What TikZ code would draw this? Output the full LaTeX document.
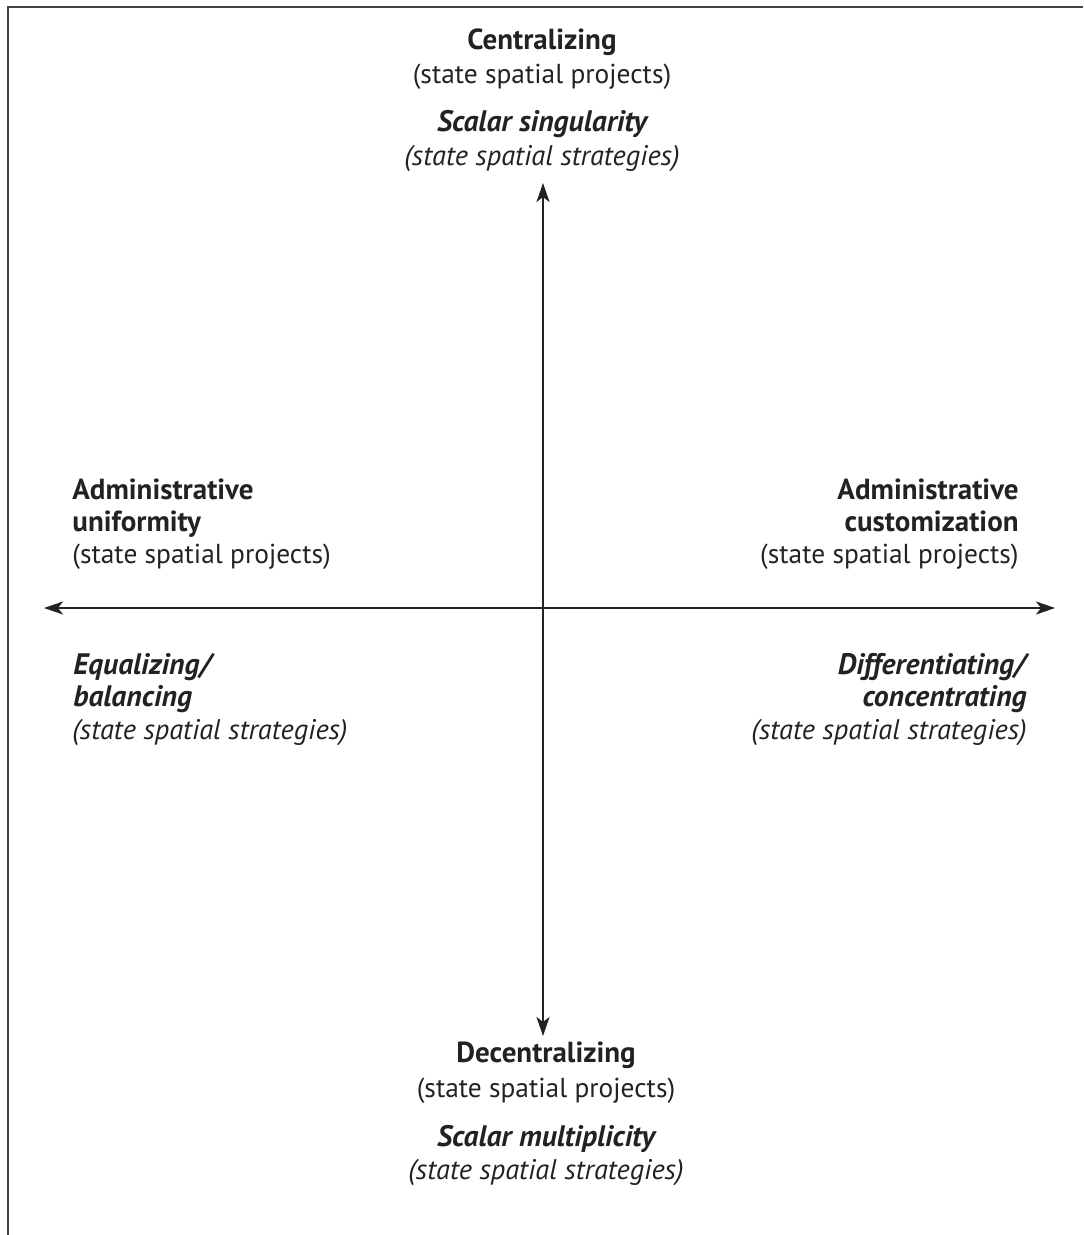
\documentclass[tikz,border=0pt]{standalone}
\usepackage{fontspec}
\setmainfont{PT Sans}
\usetikzlibrary{arrows.meta}
\definecolor{ink}{HTML}{222222}
\definecolor{framec}{HTML}{444444}
\tikzset{
  lbl/.style={inner sep=0pt, text=ink, font=\fontsize{13.7}{16}\selectfont},
  head/.style={lbl, font=\fontsize{14.5}{16}\selectfont\bfseries},
  strat/.style={lbl, font=\fontsize{14.8}{16}\selectfont\bfseries\itshape},
  sub/.style={lbl, font=\fontsize{14.2}{16}\selectfont\itshape},
  axis/.style={draw=ink, line width=1pt,
    {Stealth[length=9.5pt,width=6.5pt,inset=2.5pt]}-{Stealth[length=9.5pt,width=6.5pt,inset=2.5pt]}}
}
\begin{document}
\begin{tikzpicture}[x=0.5pt,y=-0.5pt]
\useasboundingbox (0,0) rectangle (1083,1235);
% open frame: left and top edges only
\draw[framec, line width=1pt] (7.5,1235) -- (7.5,7) -- (1083,7);

% axis end points
\coordinate (N) at (543,183);
\coordinate (S) at (543,1036);
\coordinate (W) at (44,608);
\coordinate (E) at (1055,608);
\draw[axis] (N) -- (S);
\draw[axis] (W) -- (E);

% top
\node[head, anchor=base] (cen) at (542,50) {Centralizing};
\node[lbl, anchor=base] (cenp) at (542,84) {(state spatial projects)};
\node[strat, anchor=base] (sing) at (542,132) {Scalar singularity};
\node[sub, anchor=base] (sings) at (542,166) {(state spatial strategies)};

% bottom
\node[head, anchor=base] (dec) at (546,1062) {Decentralizing};
\node[lbl, anchor=base] (decp) at (546,1097) {(state spatial projects)};
\node[strat, anchor=base] (mult) at (546,1146) {Scalar multiplicity};
\node[sub, anchor=base] (mults) at (546,1179) {(state spatial strategies)};

% left
\node[head, anchor=base west] (uni1) at (72,499) {Administrative};
\node[head, anchor=base west] (uni2) at (72,531) {uniformity};
\node[lbl, anchor=base west] (unip) at (72,563) {(state spatial projects)};
\node[strat, anchor=base west] (eq1) at (73,674) {Equalizing/};
\node[strat, anchor=base west] (eq2) at (73,706) {balancing};
\node[sub, anchor=base west] (eqs) at (72,739) {(state spatial strategies)};

% right
\node[head, anchor=base east] (cus1) at (1019,499) {Administrative};
\node[head, anchor=base east] (cus2) at (1019,531) {customization};
\node[lbl, anchor=base east] (cusp) at (1019,563) {(state spatial projects)};
\node[strat, anchor=base east] (dif1) at (1026,674) {Differentiating/};
\node[strat, anchor=base east] (dif2) at (1027,706) {concentrating};
\node[sub, anchor=base east] (difs) at (1027,739) {(state spatial strategies)};
\end{tikzpicture}
\end{document}
